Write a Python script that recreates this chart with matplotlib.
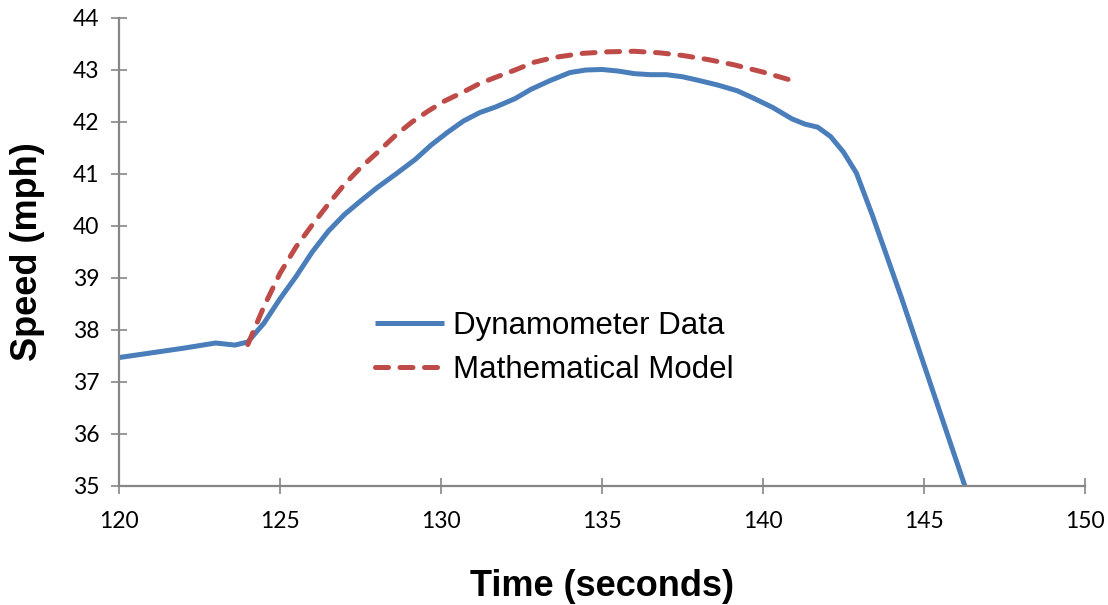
import matplotlib

matplotlib.use("Agg")
import matplotlib.pyplot as plt

# values
dyno_time = [120, 121, 122, 123, 123.6, 124, 124.5, 125, 125.5, 126, 126.5, 127, 127.5, 128,
             128.6, 129.2, 129.7, 130.2, 130.7, 131.2, 131.7, 132.3, 132.8, 133.4, 134, 134.5,
             135, 135.5, 136, 136.5, 137, 137.5, 138, 138.6, 139.2, 139.7, 140.3, 140.9, 141.3,
             141.7, 142.1, 142.5, 142.9, 143.4, 143.8, 144.3, 144.8, 145.3, 145.8, 146.27]
dyno_speed = [37.47, 37.56, 37.65, 37.75, 37.71, 37.77, 38.13, 38.6, 39.03, 39.5, 39.9, 40.22,
              40.48, 40.73, 41.0, 41.28, 41.56, 41.8, 42.02, 42.18, 42.29, 42.45, 42.63, 42.8,
              42.95, 43.0, 43.01, 42.98, 42.93, 42.91, 42.91, 42.87, 42.8, 42.71, 42.6, 42.46,
              42.28, 42.06, 41.96, 41.9, 41.72, 41.42, 41.02, 40.2, 39.5, 38.62, 37.7, 36.78,
              35.86, 35.0]

model_time = [124, 124.5, 125, 125.5, 126, 126.5, 127, 127.5, 128, 128.6, 129.1, 129.6, 130.1,
              130.7, 131.2, 131.7, 132.3, 132.9, 133.5, 134.4, 135.2, 136, 136.8, 137.5, 138.3,
              139.1, 140, 141]
model_speed = [37.72, 38.45, 39.09, 39.6, 40.02, 40.42, 40.8, 41.12, 41.4, 41.75, 42.0, 42.21,
               42.4, 42.58, 42.74, 42.86, 43.0, 43.15, 43.24, 43.32, 43.35, 43.36, 43.33, 43.28,
               43.2, 43.1, 42.96, 42.78]

x_ticks = [120, 125, 130, 135, 140, 145, 150]
y_ticks = [35, 36, 37, 38, 39, 40, 41, 42, 43, 44]

BLUE = "#4A7EBB"
RED = "#BE4B48"
GRAY = "#868686"

plt.rcParams["font.family"] = ["Liberation Sans", "DejaVu Sans"]

fig = plt.figure(figsize=(11.08, 6.05), dpi=100)
ax = fig.add_axes([119 / 1108, 1 - 486 / 605, 966 / 1108, 468 / 605])

ax.plot(dyno_time, dyno_speed, color=BLUE, lw=3.6, solid_capstyle="butt",
        solid_joinstyle="round", label="Dynamometer Data", clip_on=False)
ax.plot(model_time, model_speed, color=RED, lw=3.6, dashes=(2.6, 2.3),
        dash_capstyle="round", solid_joinstyle="round", label="Mathematical Model")

ax.set_xlim(120, 150)
ax.set_ylim(35, 44)
ax.set_xticks(x_ticks)
ax.set_yticks(y_ticks)

for side in ("top", "right"):
    ax.spines[side].set_visible(False)
for side in ("left", "bottom"):
    ax.spines[side].set_color(GRAY)
    ax.spines[side].set_linewidth(1.6)

ax.tick_params(direction="inout", length=12, width=1.2, color=GRAY,
               labelsize=16.5, labelcolor="black")
ax.tick_params(axis="y", pad=8)
ax.tick_params(axis="x", pad=12)
for lab in ax.get_xticklabels() + ax.get_yticklabels():
    lab.set_family(["Lato", "DejaVu Sans"])

ax.set_xlabel("Time (seconds)", fontsize=26, fontweight="bold", labelpad=27)
ax.set_ylabel("Speed (mph)", fontsize=26, fontweight="bold", labelpad=20)

fig.legend(loc="center left", bbox_to_anchor=(375 / 1108, 1 - 348 / 605),
           frameon=False, fontsize=22.5, handlelength=2.2, handletextpad=0.3,
           labelspacing=0.45, borderpad=0, borderaxespad=0)

fig.savefig("out.png", dpi=100)
plt.close(fig)
